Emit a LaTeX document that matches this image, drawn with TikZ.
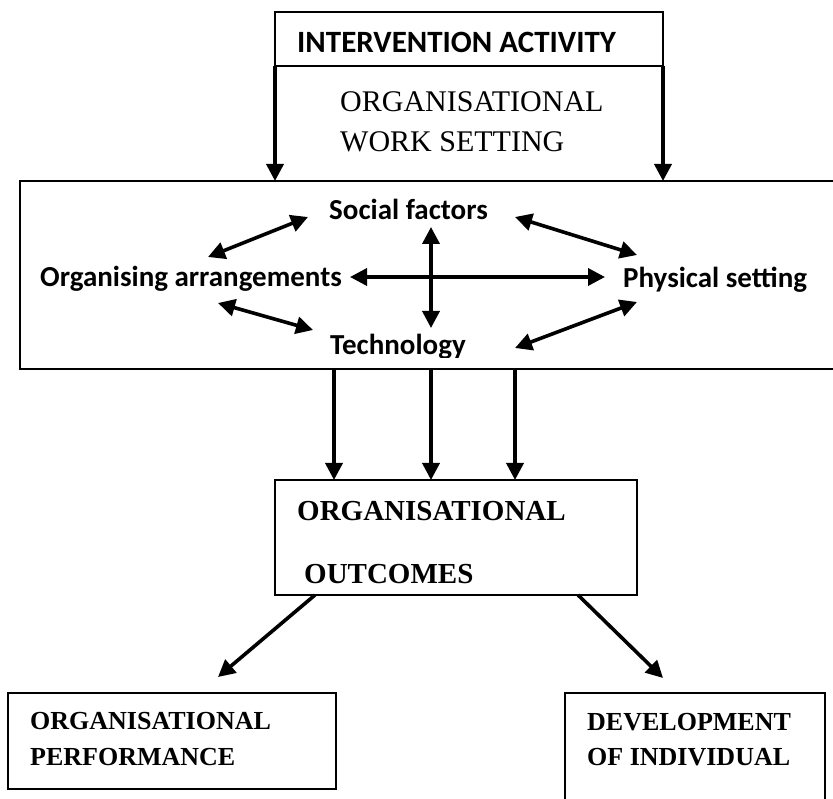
\documentclass[tikz,border=0pt]{standalone}
\usepackage{fontspec}
\setmainfont{Liberation Serif}
\newfontfamily\calib{Carlito}
\usetikzlibrary{arrows.meta}

\begin{document}
\begin{tikzpicture}[x=1pt,y=-1pt,
  box/.style={draw, line width=2pt, inner sep=0, outer sep=0},
  thinbox/.style={draw, line width=1.6pt, inner sep=0, outer sep=0},
  tip/.tip={Triangle[length=17pt,width=17pt]},
  link/.style={line width=3.6pt, -tip},
  both/.style={line width=3.6pt, tip-tip},
  txt/.style={inner sep=0, anchor=base west},
  factor/.style={txt, font=\calib\bfseries\fontsize{29}{34}\selectfont},
  serifhead/.style={txt, font=\fontsize{30}{36}\selectfont},
  boldhead/.style={txt, font=\bfseries\fontsize{29}{34}\selectfont},
  smallhead/.style={txt, font=\bfseries\fontsize{26}{31}\selectfont}]
\useasboundingbox (0,0) rectangle (833,799);
\clip (0,0) rectangle (833,799);

% boxes
\node[box, minimum width=388pt, minimum height=54pt] (top) at (469,39) {};
\node[box, minimum width=830pt, minimum height=188pt] (work) at (435,275) {};
\node[thinbox, minimum width=362pt, minimum height=115pt] (out) at (456,537.5) {};
\node[thinbox, minimum width=328pt, minimum height=96pt] (perf) at (172,741) {};
\node[thinbox, minimum width=260pt, minimum height=157pt] (dev) at (695,771.5) {};

% headings
\node[txt, font=\calib\bfseries\fontsize{31}{36}\selectfont] (ia) at (297,53) {INTERVENTION ACTIVITY};
\node[serifhead] (ows1) at (340,112) {ORGANISATIONAL};
\node[serifhead] (ows2) at (340,152) {WORK SETTING};

% work setting factors
\node[factor] (soc) at (329,220) {Social factors};
\node[factor] (org) at (40,287) {Organising arrangements};
\node[factor] (phy) at (623,288) {Physical setting};
\begin{scope}
  \clip (300,320) rectangle (500,358);
  \node[factor] (tec) at (330,355) {Technology};
\end{scope}

% outcome texts
\node[boldhead] (oo1) at (297,520) {ORGANISATIONAL};
\node[boldhead] (oo2) at (304,583) {OUTCOMES};
\node[smallhead] (op1) at (30,729) {ORGANISATIONAL};
\node[smallhead] (op2) at (30,765) {PERFORMANCE};
\node[smallhead] (di1) at (587,730) {DEVELOPMENT};
\node[smallhead] (di2) at (587,765) {OF INDIVIDUAL};

% intervention acts on the work setting
\draw[link] (top.south west) -- (top.south west |- work.north);
\draw[link] (top.south east) -- (top.south east |- work.north);

% interactions among the factors
\coordinate (so1) at (308,217); \coordinate (or1) at (208,257);
\coordinate (or2) at (218,303); \coordinate (te1) at (313,330);
\coordinate (so2) at (515,217); \coordinate (ph1) at (637,255);
\coordinate (te2) at (515,348); \coordinate (ph2) at (637,302);
\coordinate (or3) at (350,277); \coordinate (ph3) at (605,277);
\coordinate (so3) at (431,227); \coordinate (te3) at (431,328);
\draw[both] (so1) -- (or1);
\draw[both] (or2) -- (te1);
\draw[both] (so2) -- (ph1);
\draw[both] (te2) -- (ph2);
\draw[both] (or3) -- (ph3);
\draw[both] (so3) -- (te3);

% work setting leads to outcomes
\coordinate (d1) at (334,369);
\coordinate (d2) at (431,369);
\coordinate (d3) at (515,369);
\draw[link] (d1) -- (d1 |- out.north);
\draw[link] (d2) -- (d2 |- out.north);
\draw[link] (d3) -- (d3 |- out.north);

% outcomes split into performance and individual development
\coordinate (s1) at (315,595); \coordinate (e1) at (218,677);
\coordinate (s2) at (578,595); \coordinate (e2) at (663,678);
\draw[link] (s1) -- (e1);
\draw[link] (s2) -- (e2);
\end{tikzpicture}
\end{document}
